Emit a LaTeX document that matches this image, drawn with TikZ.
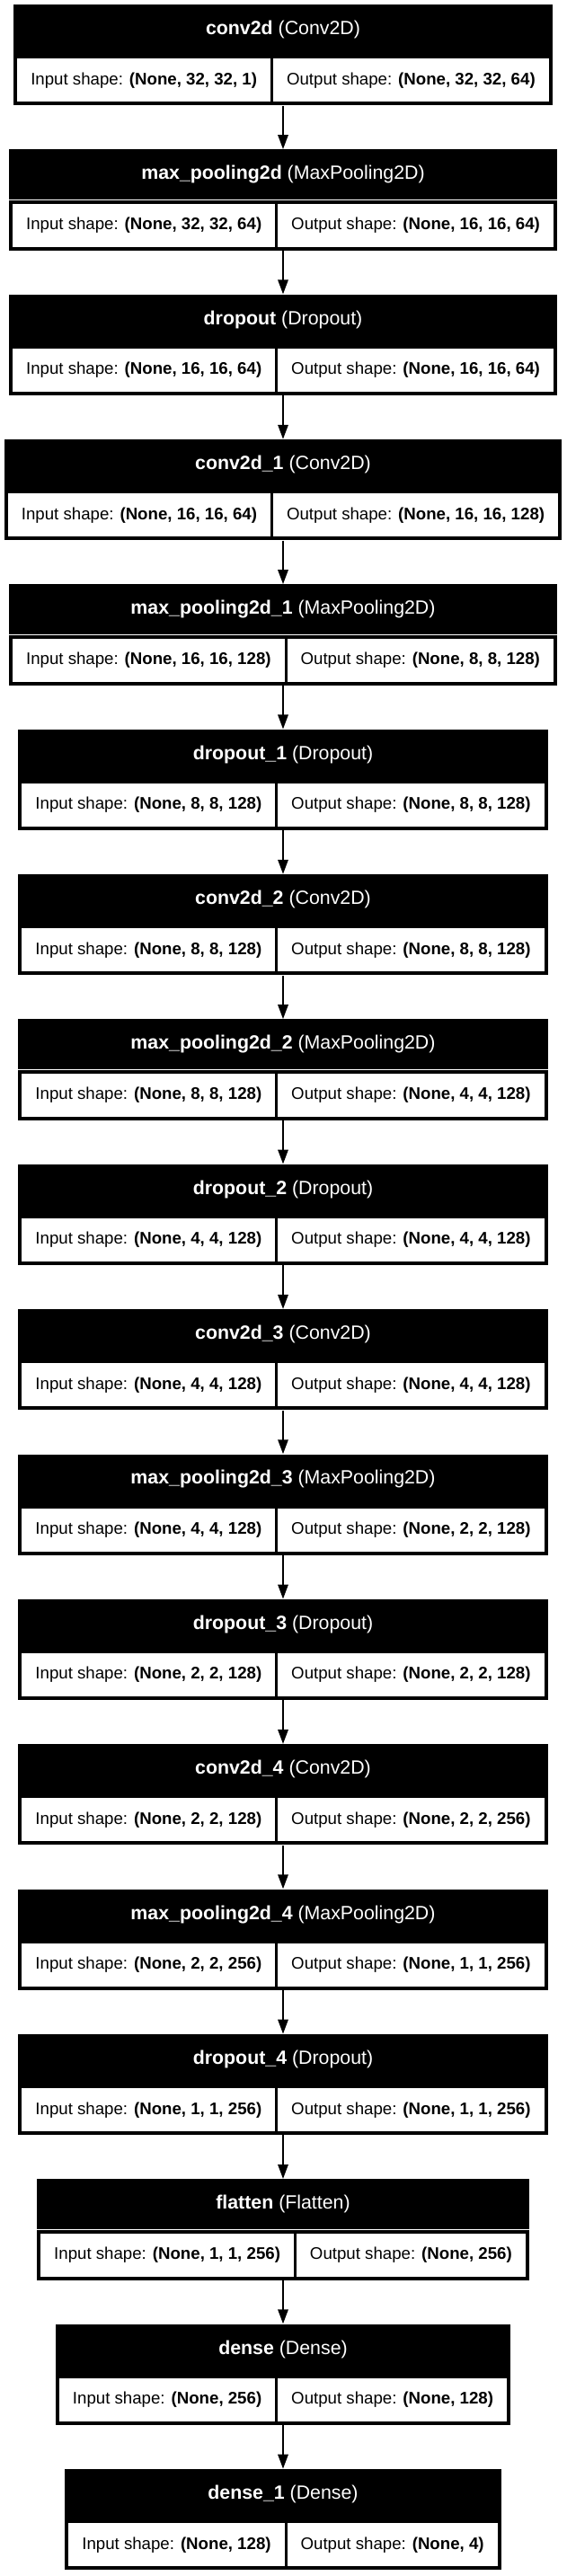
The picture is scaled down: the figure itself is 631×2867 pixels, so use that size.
\documentclass[tikz,border=0pt]{standalone}
\usepackage{fontspec}
\setmainfont{Liberation Sans}
\usetikzlibrary{fit,arrows.meta}

\tikzstyle{layer}=[matrix,
                   fill=black,
                   inner sep=3pt,
                   column sep=2.25pt,
                   matrix anchor=north]
\tikzstyle{cell}=[fill=white,
                  anchor=center,
                  inner xsep=11.25pt,
                  inner ysep=0pt,
                  minimum height=36pt]
\tikzstyle{head}=[fill=black,
                  inner sep=0pt]
\tikzstyle{headtext}=[text=white,
                      inner sep=0pt,
                      font=\fontsize{16pt}{18pt}\selectfont]
\tikzstyle{flow}=[-{Triangle[length=12pt,width=8.5pt]},
                  line width=1.5pt]

\begin{document}
\begin{tikzpicture}[x=0.75pt,y=0.75pt,
    every node/.style={font=\fontsize{14pt}{16pt}\selectfont}]
    \useasboundingbox (0,0) rectangle (631,-2867);

    \matrix (conv) [layer] at (315,-61) {
        \node [cell] {Input shape: \textbf{(None, 32, 32, 1)}}; &
        \node [cell] {Output shape: \textbf{(None, 32, 32, 64)}}; \\
    };
    \node [head, fit={(conv.north west)([yshift=42pt]conv.north east)}] (conv-t) {};
    \node [headtext] (conv-l) at (conv-t.center) {\textbf{conv2d} (Conv2D)};

    \matrix (pool) [layer] at (315,-222.35) {
        \node [cell] {Input shape: \textbf{(None, 32, 32, 64)}}; &
        \node [cell] {Output shape: \textbf{(None, 16, 16, 64)}}; \\
    };
    \node [head, fit={(pool.north west)([yshift=42pt]pool.north east)}] (pool-t) {};
    \node [headtext] (pool-l) at (pool-t.center) {\textbf{max\_pooling2d} (MaxPooling2D)};

    \matrix (drop) [layer] at (315,-383.7) {
        \node [cell] {Input shape: \textbf{(None, 16, 16, 64)}}; &
        \node [cell] {Output shape: \textbf{(None, 16, 16, 64)}}; \\
    };
    \node [head, fit={(drop.north west)([yshift=42pt]drop.north east)}] (drop-t) {};
    \node [headtext] (drop-l) at (drop-t.center) {\textbf{dropout} (Dropout)};

    \matrix (conv1) [layer] at (315,-545.05) {
        \node [cell] {Input shape: \textbf{(None, 16, 16, 64)}}; &
        \node [cell] {Output shape: \textbf{(None, 16, 16, 128)}}; \\
    };
    \node [head, fit={(conv1.north west)([yshift=42pt]conv1.north east)}] (conv1-t) {};
    \node [headtext] (conv1-l) at (conv1-t.center) {\textbf{conv2d\_1} (Conv2D)};

    \matrix (pool1) [layer] at (315,-706.4) {
        \node [cell] {Input shape: \textbf{(None, 16, 16, 128)}}; &
        \node [cell] {Output shape: \textbf{(None, 8, 8, 128)}}; \\
    };
    \node [head, fit={(pool1.north west)([yshift=42pt]pool1.north east)}] (pool1-t) {};
    \node [headtext] (pool1-l) at (pool1-t.center) {\textbf{max\_pooling2d\_1} (MaxPooling2D)};

    \matrix (drop1) [layer] at (315,-867.75) {
        \node [cell] {Input shape: \textbf{(None, 8, 8, 128)}}; &
        \node [cell] {Output shape: \textbf{(None, 8, 8, 128)}}; \\
    };
    \node [head, fit={(drop1.north west)([yshift=42pt]drop1.north east)}] (drop1-t) {};
    \node [headtext] (drop1-l) at (drop1-t.center) {\textbf{dropout\_1} (Dropout)};

    \matrix (conv2) [layer] at (315,-1029.1) {
        \node [cell] {Input shape: \textbf{(None, 8, 8, 128)}}; &
        \node [cell] {Output shape: \textbf{(None, 8, 8, 128)}}; \\
    };
    \node [head, fit={(conv2.north west)([yshift=42pt]conv2.north east)}] (conv2-t) {};
    \node [headtext] (conv2-l) at (conv2-t.center) {\textbf{conv2d\_2} (Conv2D)};

    \matrix (pool2) [layer] at (315,-1190.45) {
        \node [cell] {Input shape: \textbf{(None, 8, 8, 128)}}; &
        \node [cell] {Output shape: \textbf{(None, 4, 4, 128)}}; \\
    };
    \node [head, fit={(pool2.north west)([yshift=42pt]pool2.north east)}] (pool2-t) {};
    \node [headtext] (pool2-l) at (pool2-t.center) {\textbf{max\_pooling2d\_2} (MaxPooling2D)};

    \matrix (drop2) [layer] at (315,-1351.8) {
        \node [cell] {Input shape: \textbf{(None, 4, 4, 128)}}; &
        \node [cell] {Output shape: \textbf{(None, 4, 4, 128)}}; \\
    };
    \node [head, fit={(drop2.north west)([yshift=42pt]drop2.north east)}] (drop2-t) {};
    \node [headtext] (drop2-l) at (drop2-t.center) {\textbf{dropout\_2} (Dropout)};

    \matrix (conv3) [layer] at (315,-1513.15) {
        \node [cell] {Input shape: \textbf{(None, 4, 4, 128)}}; &
        \node [cell] {Output shape: \textbf{(None, 4, 4, 128)}}; \\
    };
    \node [head, fit={(conv3.north west)([yshift=42pt]conv3.north east)}] (conv3-t) {};
    \node [headtext] (conv3-l) at (conv3-t.center) {\textbf{conv2d\_3} (Conv2D)};

    \matrix (pool3) [layer] at (315,-1674.5) {
        \node [cell] {Input shape: \textbf{(None, 4, 4, 128)}}; &
        \node [cell] {Output shape: \textbf{(None, 2, 2, 128)}}; \\
    };
    \node [head, fit={(pool3.north west)([yshift=42pt]pool3.north east)}] (pool3-t) {};
    \node [headtext] (pool3-l) at (pool3-t.center) {\textbf{max\_pooling2d\_3} (MaxPooling2D)};

    \matrix (drop3) [layer] at (315,-1835.85) {
        \node [cell] {Input shape: \textbf{(None, 2, 2, 128)}}; &
        \node [cell] {Output shape: \textbf{(None, 2, 2, 128)}}; \\
    };
    \node [head, fit={(drop3.north west)([yshift=42pt]drop3.north east)}] (drop3-t) {};
    \node [headtext] (drop3-l) at (drop3-t.center) {\textbf{dropout\_3} (Dropout)};

    \matrix (conv4) [layer] at (315,-1997.2) {
        \node [cell] {Input shape: \textbf{(None, 2, 2, 128)}}; &
        \node [cell] {Output shape: \textbf{(None, 2, 2, 256)}}; \\
    };
    \node [head, fit={(conv4.north west)([yshift=42pt]conv4.north east)}] (conv4-t) {};
    \node [headtext] (conv4-l) at (conv4-t.center) {\textbf{conv2d\_4} (Conv2D)};

    \matrix (pool4) [layer] at (315,-2158.55) {
        \node [cell] {Input shape: \textbf{(None, 2, 2, 256)}}; &
        \node [cell] {Output shape: \textbf{(None, 1, 1, 256)}}; \\
    };
    \node [head, fit={(pool4.north west)([yshift=42pt]pool4.north east)}] (pool4-t) {};
    \node [headtext] (pool4-l) at (pool4-t.center) {\textbf{max\_pooling2d\_4} (MaxPooling2D)};

    \matrix (drop4) [layer] at (315,-2319.9) {
        \node [cell] {Input shape: \textbf{(None, 1, 1, 256)}}; &
        \node [cell] {Output shape: \textbf{(None, 1, 1, 256)}}; \\
    };
    \node [head, fit={(drop4.north west)([yshift=42pt]drop4.north east)}] (drop4-t) {};
    \node [headtext] (drop4-l) at (drop4-t.center) {\textbf{dropout\_4} (Dropout)};

    \matrix (flat) [layer] at (315,-2481.25) {
        \node [cell] {Input shape: \textbf{(None, 1, 1, 256)}}; &
        \node [cell] {Output shape: \textbf{(None, 256)}}; \\
    };
    \node [head, fit={(flat.north west)([yshift=42pt]flat.north east)}] (flat-t) {};
    \node [headtext] (flat-l) at (flat-t.center) {\textbf{flatten} (Flatten)};

    \matrix (dense) [layer] at (315,-2642.6) {
        \node [cell] {Input shape: \textbf{(None, 256)}}; &
        \node [cell] {Output shape: \textbf{(None, 128)}}; \\
    };
    \node [head, fit={(dense.north west)([yshift=42pt]dense.north east)}] (dense-t) {};
    \node [headtext] (dense-l) at (dense-t.center) {\textbf{dense} (Dense)};

    \matrix (dense1) [layer] at (315,-2803.95) {
        \node [cell] {Input shape: \textbf{(None, 128)}}; &
        \node [cell] {Output shape: \textbf{(None, 4)}}; \\
    };
    \node [head, fit={(dense1.north west)([yshift=42pt]dense1.north east)}] (dense1-t) {};
    \node [headtext] (dense1-l) at (dense1-t.center) {\textbf{dense\_1} (Dense)};

    % connectors
    \draw [flow] (conv.south) -- (pool-t.north);
    \draw [flow] (pool.south) -- (drop-t.north);
    \draw [flow] (drop.south) -- (conv1-t.north);
    \draw [flow] (conv1.south) -- (pool1-t.north);
    \draw [flow] (pool1.south) -- (drop1-t.north);
    \draw [flow] (drop1.south) -- (conv2-t.north);
    \draw [flow] (conv2.south) -- (pool2-t.north);
    \draw [flow] (pool2.south) -- (drop2-t.north);
    \draw [flow] (drop2.south) -- (conv3-t.north);
    \draw [flow] (conv3.south) -- (pool3-t.north);
    \draw [flow] (pool3.south) -- (drop3-t.north);
    \draw [flow] (drop3.south) -- (conv4-t.north);
    \draw [flow] (conv4.south) -- (pool4-t.north);
    \draw [flow] (pool4.south) -- (drop4-t.north);
    \draw [flow] (drop4.south) -- (flat-t.north);
    \draw [flow] (flat.south) -- (dense-t.north);
    \draw [flow] (dense.south) -- (dense1-t.north);
\end{tikzpicture}
\end{document}
